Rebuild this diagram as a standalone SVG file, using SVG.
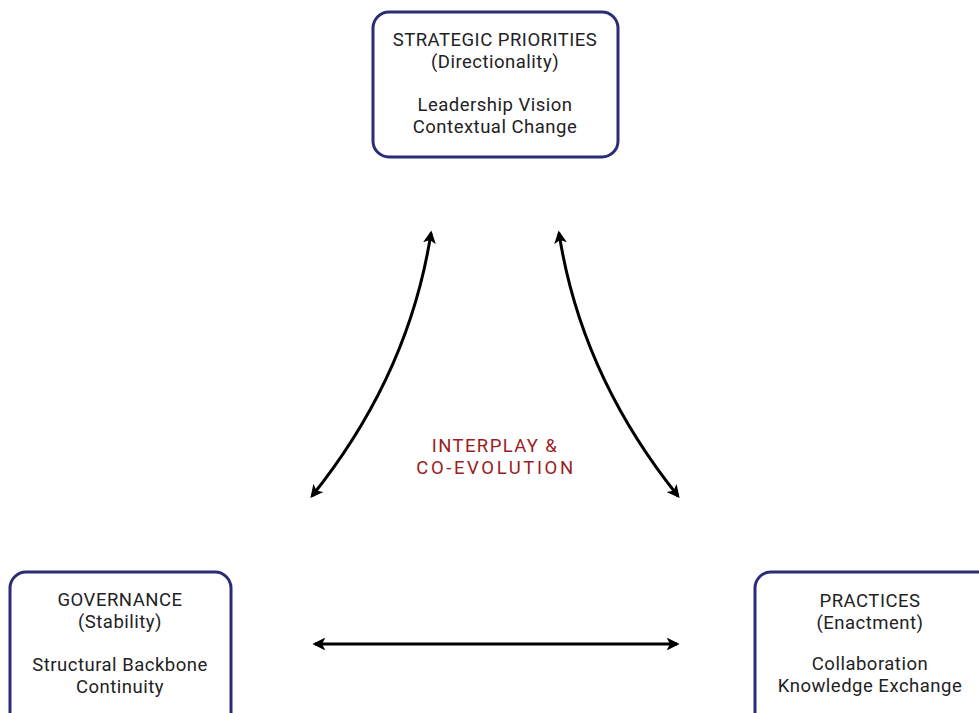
<svg xmlns="http://www.w3.org/2000/svg" width="979" height="713" viewBox="0 0 979 713">
<style>
.box{fill:#fff;stroke:#2b2b78;stroke-width:3}
.t{font-family:Roboto,"Open Sans",sans-serif;font-size:18.5px;letter-spacing:0.5px;fill:#222;text-anchor:middle}
.c{font-family:Roboto,"Open Sans",sans-serif;font-size:18.5px;letter-spacing:1.4px;fill:#9b1c22;text-anchor:middle}
.e{fill:none;stroke:#000;stroke-width:3}
</style>
<defs>
<marker id="ah" viewBox="0 0 10 10" refX="8" refY="5" markerWidth="4.3" markerHeight="4.3" orient="auto-start-reverse" markerUnits="strokeWidth">
<path d="M0,0 L10,5 L0,10 L2.5,5 Z" fill="#000"/>
</marker>
</defs>
<rect width="979" height="713" fill="#fff"/>
<g id="strategic">
<rect class="box" x="373" y="12" width="245" height="145" rx="16"/>
<text class="t" x="495" y="46">STRATEGIC PRIORITIES</text>
<text class="t" x="495" y="68">(Directionality)</text>
<text class="t" x="495" y="111">Leadership Vision</text>
<text class="t" x="495" y="133">Contextual Change</text>
</g>
<g id="governance">
<rect class="box" x="10" y="572" width="221" height="160" rx="16"/>
<text class="t" x="120" y="606">GOVERNANCE</text>
<text class="t" x="120" y="628">(Stability)</text>
<text class="t" x="120" y="671">Structural Backbone</text>
<text class="t" x="120" y="693">Continuity</text>
</g>
<g id="practices">
<rect class="box" x="755" y="572" width="240" height="160" rx="16"/>
<text class="t" x="870" y="607">PRACTICES</text>
<text class="t" x="870" y="629">(Enactment)</text>
<text class="t" x="870" y="670">Collaboration</text>
<text class="t" x="870" y="692">Knowledge Exchange</text>
</g>
<g id="center">
<text class="c" x="495" y="452">INTERPLAY &amp;</text>
<text class="c" x="496" y="474" style="letter-spacing:2.6px">CO-EVOLUTION</text>
</g>
<g id="connectors">
<path class="e" d="M431,233 Q409,375 312,496" marker-start="url(#ah)" marker-end="url(#ah)"/>
<path class="e" d="M559,233 Q581,375 678,496" marker-start="url(#ah)" marker-end="url(#ah)"/>
<path class="e" d="M315,644 L677,644" marker-start="url(#ah)" marker-end="url(#ah)"/>
</g>
</svg>
